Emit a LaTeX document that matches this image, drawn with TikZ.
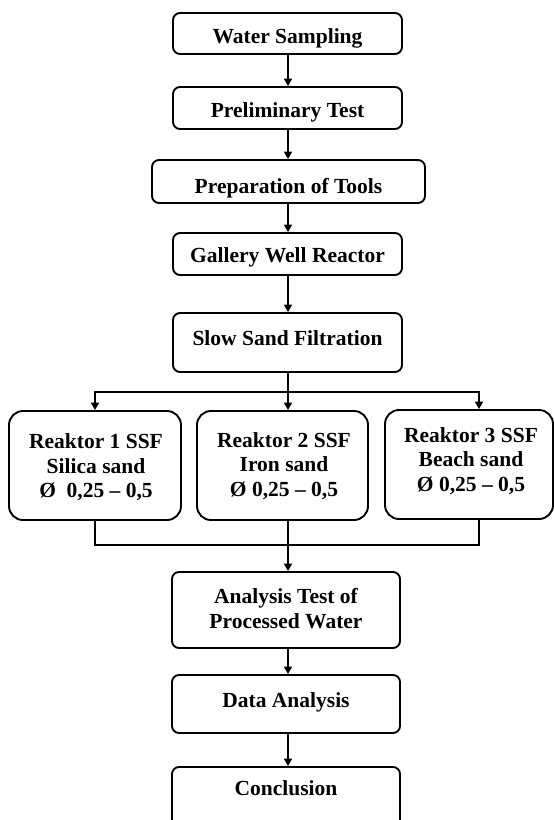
\documentclass[tikz,border=0pt]{standalone}
\usepackage{fontspec}
\setmainfont{Liberation Serif}
\usetikzlibrary{arrows.meta}
\begin{document}
\begin{tikzpicture}[x=1pt,y=-1pt,
  box/.style={draw=black, line width=1.9pt, rounded corners=7pt, inner sep=0pt},
  bigbox/.style={draw=black, line width=1.9pt, rounded corners=14pt, inner sep=0pt},
  txt/.style={font=\bfseries\fontsize{21.5}{24.5}\selectfont, align=center, inner sep=0pt},
  conn/.style={line width=1.9pt, -{Triangle[length=7.5pt,width=8pt]}},
  plain/.style={line width=1.9pt, line cap=rect}]
\useasboundingbox (0,0) rectangle (554,820);
% main boxes
\node[box, minimum width=229pt, minimum height=41pt] (b1) at (287.5,33.5) {};
\node[txt, anchor=base] (t1) at (287.5,43) {Water Sampling};
\node[box, minimum width=229pt, minimum height=42pt] (b2) at (287.5,108) {};
\node[txt, anchor=base] (t2) at (287.5,117) {Preliminary Test};
\node[box, minimum width=273pt, minimum height=43pt] (b3) at (288.5,181.5) {};
\node[txt, anchor=base] (t3) at (288.5,193) {Preparation of Tools};
\node[box, minimum width=229pt, minimum height=42pt] (b4) at (287.5,254) {};
\node[txt, anchor=base] (t4) at (287.5,262) {Gallery Well Reactor};
\node[box, minimum width=229pt, minimum height=59pt] (b5) at (287.5,342.5) {};
\node[txt, anchor=base] (t5) at (287.5,345) {Slow Sand Filtration};
% reactors
\node[bigbox, minimum width=172pt, minimum height=109pt] (r1) at (95,465.5) {};
\node[txt] (tr1) at (96,467.5) {Reaktor 1 SSF\\Silica sand\\Ø~~0,25 – 0,5};
\node[bigbox, minimum width=171pt, minimum height=109pt] (r2) at (282.5,465.5) {};
\node[txt] (tr2) at (284,466) {Reaktor 2 SSF\\Iron sand\\Ø 0,25 – 0,5};
\node[bigbox, minimum width=168pt, minimum height=109pt] (r3) at (469,464.5) {};
\node[txt] (tr3) at (471,461) {Reaktor 3 SSF\\Beach sand\\Ø 0,25 – 0,5};
% lower boxes
\node[box, minimum width=228pt, minimum height=76pt] (a1) at (286,610) {};
\node[txt] (ta1) at (286,608.5) {Analysis Test of\\Processed Water};
\node[box, minimum width=228pt, minimum height=58pt] (a2) at (286,704) {};
\node[txt, anchor=base] (ta2) at (286,707) {Data Analysis};
\node[box, minimum width=228pt, minimum height=73pt] (a3) at (286,803.5) {};
\node[txt, anchor=base] (ta3) at (286,795) {Conclusion};
% connectors
\coordinate (jt) at (288,392);
\coordinate (jl) at (95,392);
\coordinate (jr) at (479,392);
\coordinate (bl) at (95,545);
\coordinate (br) at (479,545);
\draw[conn] (b1.south -| jt) -- (b2.north -| jt);
\draw[conn] (b2.south -| jt) -- (b3.north -| jt);
\draw[conn] (b3.south -| jt) -- (b4.north -| jt);
\draw[conn] (b4.south -| jt) -- (b5.north -| jt);
\draw[plain] (b5.south -| jt) -- (jt);
\draw[plain] (jl) -- (jr);
\draw[conn] (jl) -- (jl |- r1.north);
\draw[conn] (jt) -- (jt |- r2.north);
\draw[conn] (jr) -- (jr |- r3.north);
\draw[plain] (r1.south -| bl) -- (bl) -- (br) -- (br |- r3.south);
\draw[conn] (r2.south -| jt) -- (a1.north -| jt);
\draw[conn] (a1.south -| jt) -- (a2.north -| jt);
\draw[conn] (a2.south -| jt) -- (a3.north -| jt);
\end{tikzpicture}
\end{document}
